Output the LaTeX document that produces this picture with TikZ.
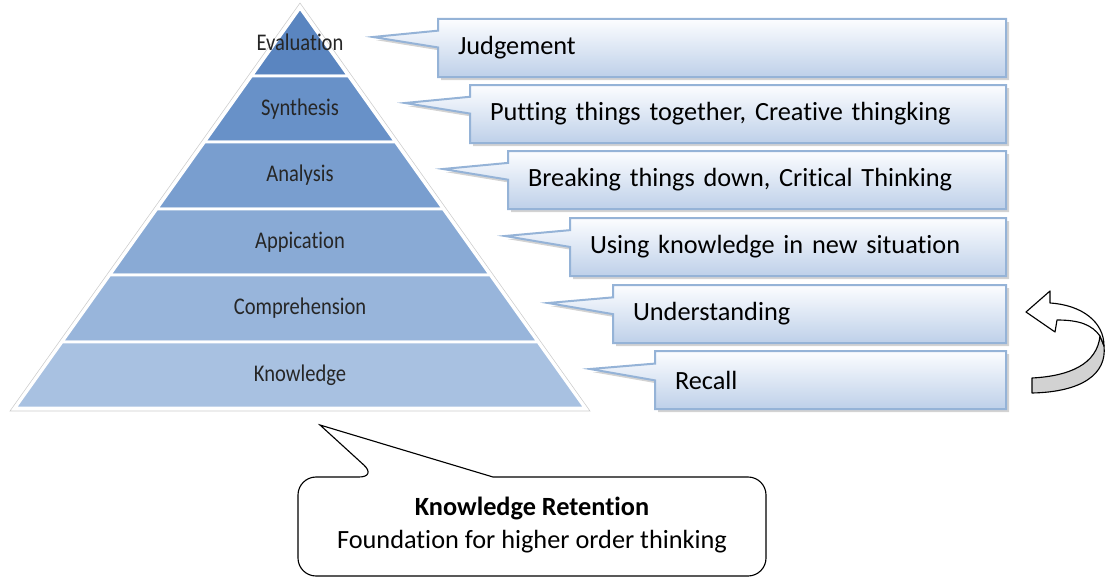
\documentclass[tikz,border=0pt]{standalone}
\usepackage{fontspec}
\setmainfont{Carlito}[Ligatures=NoCommon]
\newfontfamily\levelfont[FakeStretch=0.86,Ligatures=NoCommon]{Carlito}
\usetikzlibrary{shapes.callouts,shadows}

\definecolor{evalblue}{RGB}{90,133,192}
\definecolor{synthblue}{RGB}{104,145,200}
\definecolor{analblue}{RGB}{121,158,207}
\definecolor{applblue}{RGB}{137,170,213}
\definecolor{compblue}{RGB}{152,181,219}
\definecolor{knowblue}{RGB}{168,193,225}
\definecolor{boxline}{RGB}{149,179,215}
\definecolor{boxtop}{RGB}{252,253,255}
\definecolor{boxbottom}{RGB}{190,208,233}

\tikzset{
    level/.style={font=\levelfont\fontsize{17}{20}\selectfont, text=black!85},
    meaning/.style={rectangle callout, anchor=north west, draw=boxline, line width=.05cm,
        top color=boxtop, bottom color=boxbottom, minimum height=1.45cm, inner xsep=.5cm,
        align=left, font=\fontsize{18.7}{22}\selectfont, callout pointer width=.42cm,
        drop shadow={shadow xshift=.08cm, shadow yshift=-.08cm, opacity=.35}},
    ribbon/.style={draw=black, line width=.8pt, line join=round},
}

\begin{document}
\begin{tikzpicture}[x=.025cm, y=-.025cm]
    \useasboundingbox (0,0) rectangle (1108,578);

    % pyramid, one band per level
    \draw[gray!40, line width=.4pt] (300,3) -- (10,411) -- (590,411) -- cycle;
    \foreach \ya/\yb/\col/\name/\txt in {8/76/evalblue/evaluation/Evaluation,
            76/142/synthblue/synthesis/Synthesis, 142/209/analblue/analysis/Analysis,
            209/275/applblue/application/Appication, 275/342/compblue/comprehension/Comprehension,
            342/408/knowblue/knowledge/Knowledge} {
        \filldraw[fill=\col, draw=white, line width=.07cm]
            ({300-.7125*(\ya-8)},\ya) -- ({300+.7125*(\ya-8)},\ya)
            -- ({300+.7125*(\yb-8)},\yb) -- ({300-.7125*(\yb-8)},\yb) -- cycle;
        \node[level] (\name) at (300,{(\ya+\yb)/2}) {\txt};
    }

    % callouts with what each level stands for
    \foreach \name/\xl/\yt/\txt in {judgement/437/18/Judgement,
            putting/469/84/{Putting things together, Creative thingking},
            breaking/507/150/{Breaking things down, Critical Thinking},
            using/569/217/Using knowledge in new situation,
            understanding/612/284/Understanding, recall/654/350/Recall} {
        \pgfmathsetmacro\tw{(1005-\xl)*.025-1}
        \node[meaning, text width=\tw cm, callout absolute pointer={({\xl-64},{\yt+19})}]
            (\name) at (\xl,\yt) {\txt};
    }

    % twisted return arrow
    \filldraw[ribbon, fill=gray!35] (1100,336) .. controls (1097,364) and (1070,376) .. (1032,378)
        -- (1032,393) .. controls (1082,392) and (1107,374) .. (1104,346) -- cycle;
    \filldraw[ribbon, fill=white] (1026,312) -- (1050,291) -- (1050,303)
        .. controls (1082,305) and (1104,322) .. (1104,346) -- (1100,336)
        .. controls (1092,325) and (1080,320) .. (1057,320) -- (1055,332) -- cycle;

    % retention bubble below the base
    \node[font=\fontsize{18.7}{23.4}\selectfont, align=center] (retention) at (532,525)
        {\textbf{Knowledge Retention}\\Foundation for higher order thinking};
    \draw[line width=.8pt] (320,425) -- (493,477) -- (600,477) [rounded corners=.45cm]
        -- (766,477) -- (766,576) -- (298,576) -- (298,477) -- (377,477) [sharp corners] -- cycle;
\end{tikzpicture}
\end{document}
